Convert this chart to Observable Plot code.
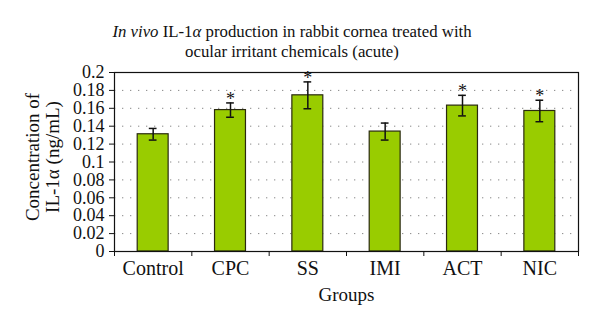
<!DOCTYPE html>
<html>
<head>
<meta charset="utf-8">
<script src="https://cdn.jsdelivr.net/npm/d3@7"></script>
<script src="https://cdn.jsdelivr.net/npm/@observablehq/plot@0.6"></script>
<style>
  html, body { margin: 0; padding: 0; background: #fff; }
  #wrap { width: 600px; height: 328px; overflow: hidden; }
  #title { height: 60px; box-sizing: border-box; padding-top: 22px; padding-right: 16px;
           font: 16.8px "Liberation Serif", serif; line-height: 20px; text-align: center; color: #111; }
  svg { display: block; }
</style>
</head>
<body>
<div id="wrap">
  <div id="title"><i>In vivo</i> IL-1<i>α</i> production in rabbit cornea treated with<br>ocular irritant chemicals (acute)</div>
  <div id="chart"></div>
</div>
<script>
const categories = ["Control", "CPC", "SS", "IMI", "ACT", "NIC"];
const values = [0.131, 0.158, 0.1745, 0.134, 0.163, 0.157];
const errors = [0.0065, 0.008, 0.015, 0.0095, 0.0115, 0.012];
const significant = [false, true, true, false, true, true];
const yTicks = [0, 0.02, 0.04, 0.06, 0.08, 0.1, 0.12, 0.14, 0.16, 0.18, 0.2];
const yLabelLines = ["Concentration of", "IL-1α (ng/mL)"];
const xLabel = "Groups";

const data = categories.map((c, i) => ({
  cat: c, i, value: values[i], err: errors[i], sig: significant[i]
}));
const boundaries = d3.range(categories.length + 1);
const centers = categories.map((c, i) => i + 0.5);

const font = "Liberation Serif";
const chart = Plot.plot({
  width: 600,
  height: 268,
  marginTop: 12,
  marginBottom: 77,
  marginLeft: 114,
  marginRight: 22,
  style: { fontFamily: font, fontSize: "18px", color: "#111", background: "#fff" },
  x: { domain: [0, categories.length] },
  y: { domain: [0, 0.2] },
  marks: [
    Plot.gridY(yTicks.slice(1, -1), { stroke: "#888", strokeOpacity: 1, strokeDasharray: "1.3,6.7" }),
    Plot.rectY(data, {
      x1: d => d.i + 0.3, x2: d => d.i + 0.7, y1: 0, y2: "value",
      fill: "#99cc00", stroke: "#2a2a10", strokeWidth: 1.2
    }),
    Plot.ruleX(data, { x: d => d.i + 0.5, y1: d => d.value - d.err, y2: d => d.value + d.err, stroke: "#111", strokeWidth: 1.5 }),
    Plot.ruleY(data, { y: d => d.value - d.err, x1: d => d.i + 0.45, x2: d => d.i + 0.55, stroke: "#111", strokeWidth: 1.5 }),
    Plot.ruleY(data, { y: d => d.value + d.err, x1: d => d.i + 0.45, x2: d => d.i + 0.55, stroke: "#111", strokeWidth: 1.5 }),
    Plot.text(data.filter(d => d.sig), {
      x: d => d.i + 0.5, y: d => d.value + d.err, text: () => "*",
      dy: -4, lineAnchor: "middle", fontSize: 18, fill: "#111"
    }),
    Plot.frame({ stroke: "#111", strokeWidth: 1.2 }),
    Plot.axisY(yTicks, {
      tickSize: 5, tickPadding: 5, label: null, stroke: "#111",
      tickFormat: d => String(+d.toFixed(2)), fontSize: 18
    }),
    Plot.axisX(boundaries, { tickSize: 5, tickFormat: () => "", label: null, stroke: "#111" }),
    Plot.axisX(centers, {
      tickSize: 0, tickPadding: 9, label: null, fontSize: 20,
      tickFormat: d => categories[Math.round(d - 0.5)]
    }),
    Plot.text([xLabel], { frameAnchor: "bottom", dy: 43, text: d => d, fontSize: 19, textAnchor: "middle", lineAnchor: "middle" }),
    Plot.text([yLabelLines[0]], {
      frameAnchor: "left", dx: -82, dy: -5, rotate: -90, text: d => d,
      fontSize: 19, textAnchor: "middle", lineAnchor: "middle"
    }),
    Plot.text([yLabelLines[1]], {
      frameAnchor: "left", dx: -62, dy: -5, rotate: -90, text: d => d,
      fontSize: 19, textAnchor: "middle", lineAnchor: "middle"
    })
  ]
});
document.getElementById("chart").appendChild(chart);
</script>
</body>
</html>
